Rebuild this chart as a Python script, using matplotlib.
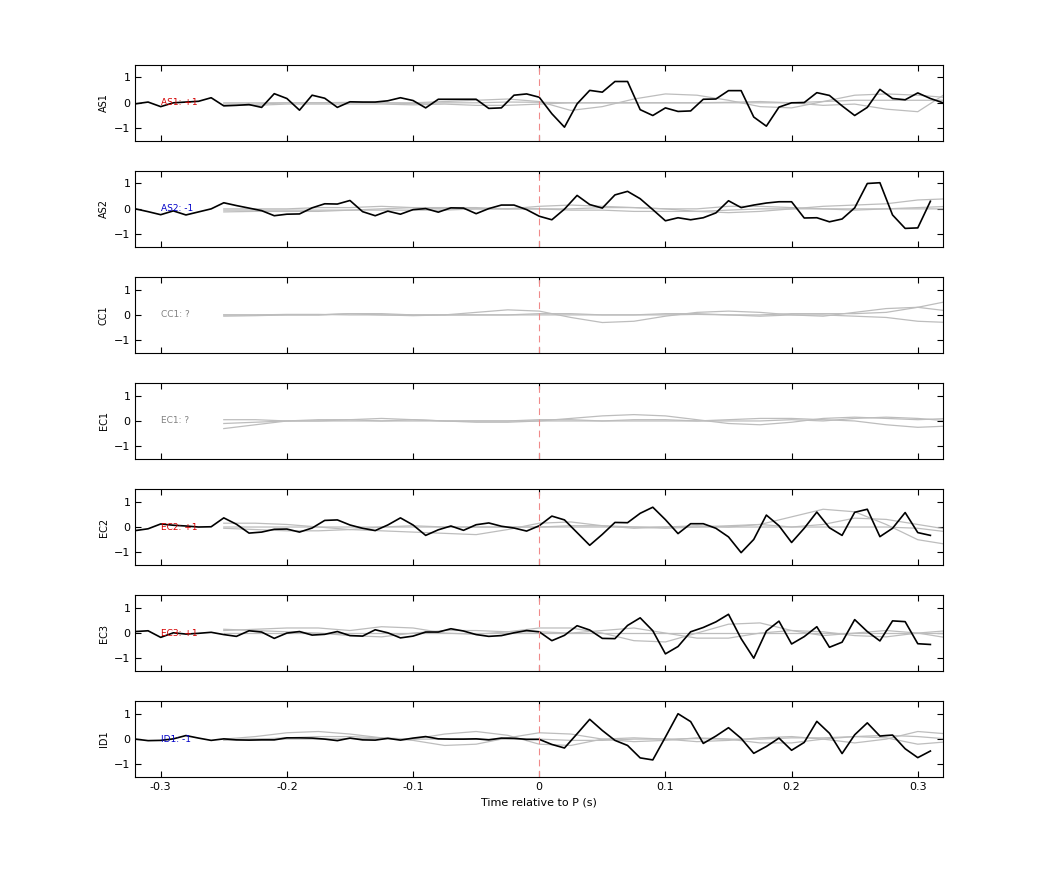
import numpy as np
import matplotlib
matplotlib.use("Agg")
import matplotlib.pyplot as plt

stations = ["AS1", "AS2", "CC1", "EC1", "EC2", "EC3", "ID1"]
labels = ["AS1: +1", "AS2: -1", "CC1: ?", "EC1: ?", "EC2: +1", "EC3: +1", "ID1: -1"]
label_colors = ["#d40000", "#0000c8", "#808080", "#808080", "#d40000", "#d40000", "#0000c8"]

# black traces, 0.01 s sampling starting at -0.32 s
trace = {
    "AS1": [-0.04, 0.03, -0.15, 0, 0.03, 0.06, 0.2, -0.12, -0.1, -0.07,
            -0.18, 0.36, 0.17, -0.29, 0.3, 0.18, -0.18, 0.04, 0.03, 0.03,
            0.08, 0.2, 0.09, -0.2, 0.14, 0.14, 0.14, 0.14, -0.22, -0.2,
            0.3, 0.35, 0.22, -0.43, -0.96, -0.04, 0.49, 0.42, 0.84, 0.84,
            -0.27, -0.5, -0.2, -0.34, -0.32, 0.14, 0.15, 0.48, 0.48, -0.56,
            -0.92, -0.17, 0, 0.01, 0.4, 0.29, -0.12, -0.5, -0.18, 0.53,
            0.17, 0.12, 0.39, 0.17, 0.0],
    "AS2": [0, -0.11, -0.23, -0.08, -0.24, -0.12, 0, 0.24, 0.13, 0.03,
            -0.07, -0.27, -0.21, -0.2, 0.04, 0.2, 0.19, 0.33, -0.11, -0.27,
            -0.09, -0.21, -0.03, 0.01, -0.13, 0.04, 0.03, -0.19, 0.01, 0.15,
            0.15, -0.03, -0.29, -0.43, -0.01, 0.53, 0.17, 0.03, 0.55, 0.69,
            0.4, -0.03, -0.47, -0.35, -0.43, -0.35, -0.16, 0.32, 0.05, 0.15,
            0.23, 0.28, 0.28, -0.36, -0.35, -0.51, -0.4, 0.04, 1.0, 1.03,
            -0.24, -0.77, -0.75, 0.3],
    "EC2": [-0.14, -0.07, 0.12, 0.07, 0.04, 0, 0.01, 0.36, 0.11, -0.24,
            -0.2, -0.09, -0.08, -0.2, -0.04, 0.26, 0.28, 0.08, -0.05, -0.14,
            0.08, 0.36, 0.08, -0.33, -0.11, 0.04, -0.13, 0.09, 0.16, 0.03,
            -0.04, -0.16, 0.05, 0.43, 0.28, -0.22, -0.72, -0.29, 0.18, 0.17,
            0.54, 0.78, 0.29, -0.26, 0.13, 0.13, -0.05, -0.39, -1.01, -0.49,
            0.47, 0.05, -0.61, -0.05, 0.59, -0.03, -0.33, 0.58, 0.7, -0.38,
            -0.05, 0.57, -0.22, -0.33],
    "EC3": [0.06, 0.09, -0.17, 0.01, -0.04, -0.01, 0.03, -0.06, -0.13, 0.09,
            0.04, -0.21, 0, 0.06, -0.08, -0.05, 0.06, -0.1, -0.12, 0.13,
            0.01, -0.19, -0.12, 0.04, 0.04, 0.17, 0.08, -0.06, -0.13, -0.1,
            0.01, 0.1, 0.05, -0.3, -0.09, 0.29, 0.12, -0.21, -0.22, 0.3,
            0.6, 0.09, -0.82, -0.53, 0.05, 0.22, 0.44, 0.74, -0.22, -0.99,
            0.08, 0.47, -0.43, -0.14, 0.25, -0.56, -0.36, 0.53, 0.06, -0.31,
            0.48, 0.45, -0.42, -0.45],
    "ID1": [0, -0.06, -0.05, 0.01, 0.14, 0.04, -0.05, 0.01, -0.03, -0.04,
            -0.03, -0.03, 0.05, 0.05, 0.04, 0, -0.06, 0.04, -0.03, -0.04,
            0.03, -0.04, 0.04, 0.1, 0.01, 0, 0, 0.01, -0.03, 0.04,
            0.03, -0.01, -0.01, -0.21, -0.35, 0.21, 0.78, 0.34, -0.05, -0.25,
            -0.74, -0.82, 0.08, 1.0, 0.69, -0.17, 0.12, 0.45, 0.03, -0.56,
            -0.29, 0.04, -0.44, -0.13, 0.7, 0.23, -0.57, 0.17, 0.64, 0.12,
            0.16, -0.38, -0.73, -0.47],
}

# grey synthetic traces, 0.025 s sampling starting at -0.25 s
grey = {
    "AS1": [[0, 0, 0, 0, 0, 0, 0, 0.05, 0.1, 0.15, 0.05, -0.3, -0.15, 0.15, 0.35, 0.3, 0.1, -0.15, -0.2, 0.05, 0.3, 0.35, 0.3, 0.2],
            [-0.05, -0.05, 0, 0, 0.02, 0, -0.03, 0, 0, 0.03, 0.02, 0, 0, 0, 0, 0, 0.02, 0.05, 0, -0.1, -0.05, -0.25, -0.35, 0.45],
            [-0.1, -0.1, -0.05, -0.05, -0.05, -0.05, -0.08, -0.05, -0.1, -0.1, -0.05, 0, 0, 0, 0, 0, 0, 0, 0, 0.05, 0.1, 0.1, 0.1, 0.1]],
    "AS2": [[-0.12, -0.1, -0.1, -0.1, -0.05, 0, 0.05, 0.05, 0.05, 0, 0.1, 0.15, 0.1, 0.05, 0, -0.1, -0.15, -0.1, 0, 0.1, 0.15, 0.2, 0.35, 0.4],
            [0, 0, 0, 0.05, 0.05, 0.1, 0.05, 0, 0, 0, 0, 0, 0.05, 0.05, 0, 0, 0.1, 0.1, 0.05, 0, -0.05, 0, 0.05, 0.1],
            [-0.05, -0.05, -0.05, -0.05, -0.05, -0.05, -0.05, -0.05, 0, 0, 0, -0.05, -0.05, -0.1, -0.1, -0.1, -0.05, 0, 0, 0, 0, 0, 0, 0]],
    "CC1": [[0, 0, 0, 0, 0.05, 0.05, 0, 0, 0.1, 0.2, 0.15, -0.1, -0.3, -0.25, -0.05, 0.1, 0.15, 0.1, 0, -0.05, 0.1, 0.25, 0.3, 0.15],
            [0, 0, 0.02, 0.02, 0, 0, 0, 0, 0, 0, 0, 0, 0, 0, 0, 0.02, 0, 0, 0.05, 0.05, 0.05, 0.1, 0.3, 0.55],
            [-0.05, -0.03, 0, 0, 0.05, 0, -0.03, 0, 0, 0, 0.05, 0.05, 0, 0, 0.05, 0.05, 0, -0.05, 0, 0, -0.05, -0.1, -0.25, -0.3]],
    "EC1": [[-0.3, -0.15, 0, 0.05, 0.05, 0, 0.05, 0, -0.05, -0.05, 0, 0.1, 0.2, 0.25, 0.2, 0.05, -0.1, -0.15, -0.05, 0.1, 0.15, 0.1, 0.05, 0.1],
            [0.05, 0.05, 0, 0, 0.05, 0.1, 0.05, 0, 0, 0, 0.05, 0.05, 0, 0, 0, 0, 0.05, 0.1, 0.1, 0.05, 0, -0.15, -0.25, -0.2],
            [-0.1, -0.05, 0, 0, 0, 0, 0, 0, 0, 0, 0, 0, 0, 0.05, 0.05, 0, 0, 0, 0.05, 0, 0.1, 0.15, 0.1, 0]],
    "EC2": [[0.15, 0.15, 0.1, 0, -0.1, -0.15, -0.2, -0.25, -0.3, -0.1, 0.15, 0.2, 0.05, -0.05, 0, 0.05, 0, 0.1, 0.4, 0.7, 0.6, 0.1, -0.5, -0.7],
            [-0.05, -0.1, -0.15, -0.15, -0.1, 0, 0.05, 0, 0, 0, 0, 0.05, 0.05, 0, -0.05, 0, 0.05, 0.1, 0, 0.1, 0.35, 0.3, 0.1, -0.1],
            [0, 0, 0, 0, 0, 0, 0, 0, 0, 0, 0, 0, 0, 0, 0, 0, 0, 0, 0, 0, 0, 0, -0.05, -0.2]],
    "EC3": [[0.15, 0.1, 0.05, 0, -0.1, -0.15, 0, 0.1, 0.1, 0.05, 0.2, 0.2, 0, -0.3, -0.35, 0, 0.35, 0.4, 0.1, -0.1, 0, 0.1, 0, -0.2],
            [0.1, 0.15, 0.2, 0.2, 0.1, 0.25, 0.2, 0, -0.05, 0.05, 0.05, 0, 0.1, 0.2, 0, -0.2, -0.2, 0, 0.1, 0.05, -0.1, -0.15, 0, 0.1],
            [0, 0, 0, 0, 0, 0, 0, 0, 0, 0, 0, 0, 0, 0, 0, 0, 0, 0, 0, 0, 0, 0, 0, 0]],
    "ID1": [[0, 0.1, 0.25, 0.3, 0.2, 0.05, 0, 0.2, 0.3, 0.15, -0.2, -0.25, 0, 0.05, 0, -0.1, -0.05, 0.05, 0.1, 0, -0.15, 0, 0.3, 0.2],
            [-0.05, 0, 0.05, 0.1, 0.1, 0.05, -0.05, -0.25, -0.2, 0.05, 0.25, 0.2, 0, -0.1, -0.05, 0.05, 0, -0.15, -0.15, 0, 0.1, 0.05, -0.2, -0.1],
            [0, 0, 0, 0, 0.02, 0.02, 0, 0, 0, 0, 0, -0.05, -0.05, 0, 0, 0.02, 0, 0, 0.05, 0.05, 0.1, 0.15, 0.1, 0]],
}

fig = plt.figure(figsize=(10.42, 8.75), dpi=100)
left, width, height = 0.13, 0.775, 0.087
for i, st in enumerate(stations):
    bottom = 0.839 - i * 0.1212
    ax = fig.add_axes([left, bottom, width, height])
    for g in grey[st]:
        tg = -0.25 + 0.025 * np.arange(len(g))
        ax.plot(tg, g, color="#bdbdbd", lw=0.9)
    if st in trace:
        y = trace[st]
        t = -0.32 + 0.01 * np.arange(len(y))
        ax.plot(t, y, color="black", lw=1.2)
    ax.axvline(0, color="#f08a8a", lw=0.8, ls=(0, (6, 4)))
    ax.text(-0.3, 0, labels[i], color=label_colors[i], fontsize=6.5, va="center", ha="left")
    ax.set_xlim(-0.32, 0.32)
    ax.set_ylim(-1.5, 1.5)
    ax.set_yticks([-1, 0, 1])
    ax.set_xticks([-0.3, -0.2, -0.1, 0, 0.1, 0.2, 0.3])
    ax.set_ylabel(st, fontsize=7)
    ax.tick_params(direction="in", top=True, right=True, labelsize=8, length=4)
    if i < len(stations) - 1:
        ax.set_xticklabels([])
    else:
        ax.set_xticklabels(["-0.3", "-0.2", "-0.1", "0", "0.1", "0.2", "0.3"])
        ax.set_xlabel("Time relative to P (s)", fontsize=8)

fig.savefig("out.png")
